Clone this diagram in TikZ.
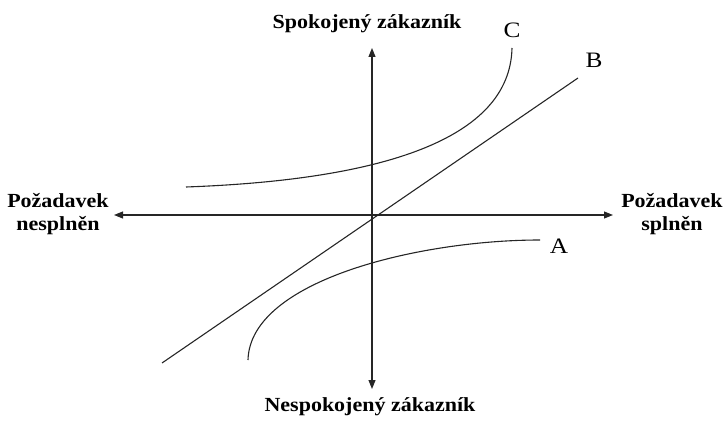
\documentclass[tikz,border=0pt]{standalone}
\usepackage{fontspec}
\setmainfont{Liberation Serif}
\newfontfamily\lblfont[FakeStretch=1.1]{Liberation Serif}
\newfontfamily\letfont[FakeStretch=1.15]{Liberation Serif}
\usetikzlibrary{arrows.meta}
\begin{document}
\begin{tikzpicture}[x=1pt,y=-1pt,
  lbl/.style={font=\lblfont\bfseries\fontsize{20}{23}\selectfont, align=center, inner sep=0pt},
  curvelbl/.style={font=\letfont\fontsize{22}{24}\selectfont, inner sep=0pt},
  axis/.style={line width=1.1pt, draw=black!85, -{Triangle[length=9pt,width=7pt]}},
  crv/.style={line width=1.1pt, draw=black!85}]
\useasboundingbox (0,0) rectangle (726,422);
\coordinate (O) at (372,215);
\coordinate (top) at (372,48);
\coordinate (bot) at (372,389);
\coordinate (left) at (114,215);
\coordinate (right) at (613,215);
\draw[axis] (O) -- (top);
\draw[axis] (O) -- (bot);
\draw[axis] (O) -- (left);
\draw[axis] (O) -- (right);
\node[lbl] (sat) at (367,24) {Spokojený zákazník};
\node[lbl] (dis) at (370,407) {Nespokojený zákazník};
\node[lbl] (nes) at (58,214) {Požadavek\\nesplněn};
\node[lbl] (spl) at (672,214) {Požadavek\\splněn};
\coordinate (b1) at (162,363);
\coordinate (b2) at (578,78);
\draw[crv] (b1) -- (b2);
\node[curvelbl] (B) at (594,60) {B};
\coordinate (c1) at (186,187);
\coordinate (c2) at (512,48);
\draw[crv] (c1) .. controls (380,180) and (510,140) .. (c2);
\node[curvelbl] (C) at (512,30) {C};
\coordinate (a1) at (248,360);
\coordinate (a2) at (540,240);
\draw[crv] (a1) .. controls (250,280) and (420,240) .. (a2);
\node[curvelbl] (A) at (559,246) {A};
\end{tikzpicture}
\end{document}
